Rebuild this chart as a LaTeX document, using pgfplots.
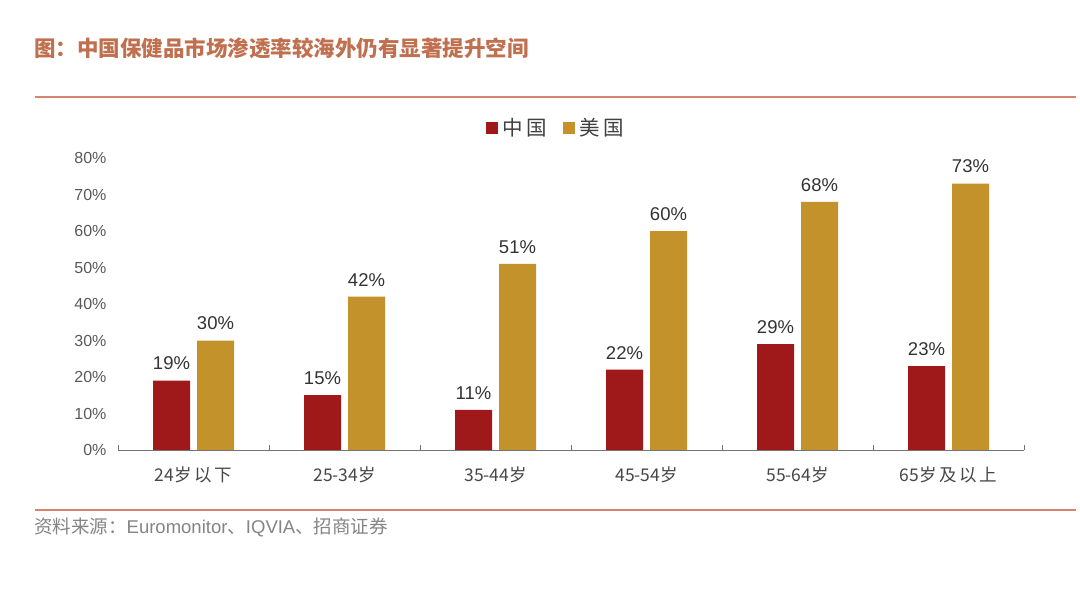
\documentclass[border=0pt]{standalone}
\usepackage{fontspec}
\setmainfont{Liberation Sans}
\newfontfamily\cjk{Noto Sans CJK SC}
\newfontfamily\cjkw[LetterSpace=15]{Noto Sans CJK SC}
\usepackage{pgfplots}
\pgfplotsset{compat=1.18}
\definecolor{cnred}{HTML}{A0191A}
\definecolor{usgold}{HTML}{C4922A}
\definecolor{rulec}{HTML}{D4856B}
\definecolor{titlec}{HTML}{C0704F}
\definecolor{ticktxt}{HTML}{595959}
\definecolor{valtxt}{HTML}{333333}
\begin{document}
\begin{tikzpicture}
\fill[white] (0pt,0pt) rectangle (1080pt,592pt);
\useasboundingbox (0pt,0pt) rectangle (1080pt,592pt);
% title and rules
\node[anchor=west, inner sep=0pt, text=titlec, font=\cjk\bfseries\fontsize{21.5}{26}\selectfont] at (34pt,544pt) {图：中国保健品市场渗透率较海外仍有显著提升空间};
\draw[rulec, line width=2pt] (35pt,495pt) -- (1076pt,495pt);
\draw[rulec, line width=2pt] (35pt,82pt) -- (1076pt,82pt);
\node[anchor=west, inner sep=0pt, text=black!48, font=\fontsize{18.5}{22}\selectfont] at (34pt,65pt)
  {{\cjk 资料来源：}Euromonitor{\cjk 、}IQVIA{\cjk 、招商证券}};
\begin{axis}[
  at={(118pt,142pt)}, anchor=south west,
  scale only axis, width=906pt, height=292pt,
  xmin=-0.5, xmax=5.5, ymin=0, ymax=80,
  ybar, bar width=37pt,
  axis x line*=bottom, axis y line*=left,
  x axis line style={-, draw=black!55, line width=0.9pt},
  y axis line style={draw=none},
  ytick={0,10,...,80},
  yticklabel={\pgfmathprintnumber{\tick}\%},
  /pgf/number format/assume math mode=true,
  yticklabel style={font=\fontsize{16}{18}\selectfont, text=ticktxt, xshift=-8pt},
  ytick style={draw=none},
  xtick={0,...,5},
  xticklabels={{{\cjk 24}岁以下},{{\cjk 25-34}岁},{{\cjk 35-44}岁},{{\cjk 45-54}岁},{{\cjk 55-64}岁},{{\cjk 65}岁及以上}},
  xticklabel style={font=\cjkw\fontsize{17.5}{20}\selectfont, text=black!72, yshift=-9pt},
  major x tick style={draw=none},
  extra x ticks={-0.5,0.5,1.5,2.5,3.5,4.5,5.5},
  extra x tick labels={},
  extra x tick style={tick align=inside, major tick length=5pt,
    major x tick style={draw=black!55, line width=0.8pt}},
  nodes near coords={\pgfmathprintnumber{\pgfplotspointmeta}\%},
  every node near coord/.append style={font=\fontsize{18.5}{22}\selectfont, text=valtxt, yshift=7pt},
  legend columns=2,
  legend style={at={(0.483,1.103)}, anchor=center, draw=none, fill=none,
    font=\cjkw\fontsize{20.5}{24}\selectfont, text=black!75,
    /tikz/every even column/.append style={column sep=14pt}},
  legend image code/.code={\fill[#1] (0pt,-6pt) rectangle (12pt,6pt);},
]
\addplot[fill=cnred, draw=none, bar shift=-22pt] coordinates {(0,19) (1,15) (2,11) (3,22) (4,29) (5,23)};
\addplot[fill=usgold, draw=none, bar shift=22pt] coordinates {(0,30) (1,42) (2,51) (3,60) (4,68) (5,73)};
\legend{\hspace{3pt}中国, \hspace{3pt}美国}
\end{axis}
\end{tikzpicture}
\end{document}
